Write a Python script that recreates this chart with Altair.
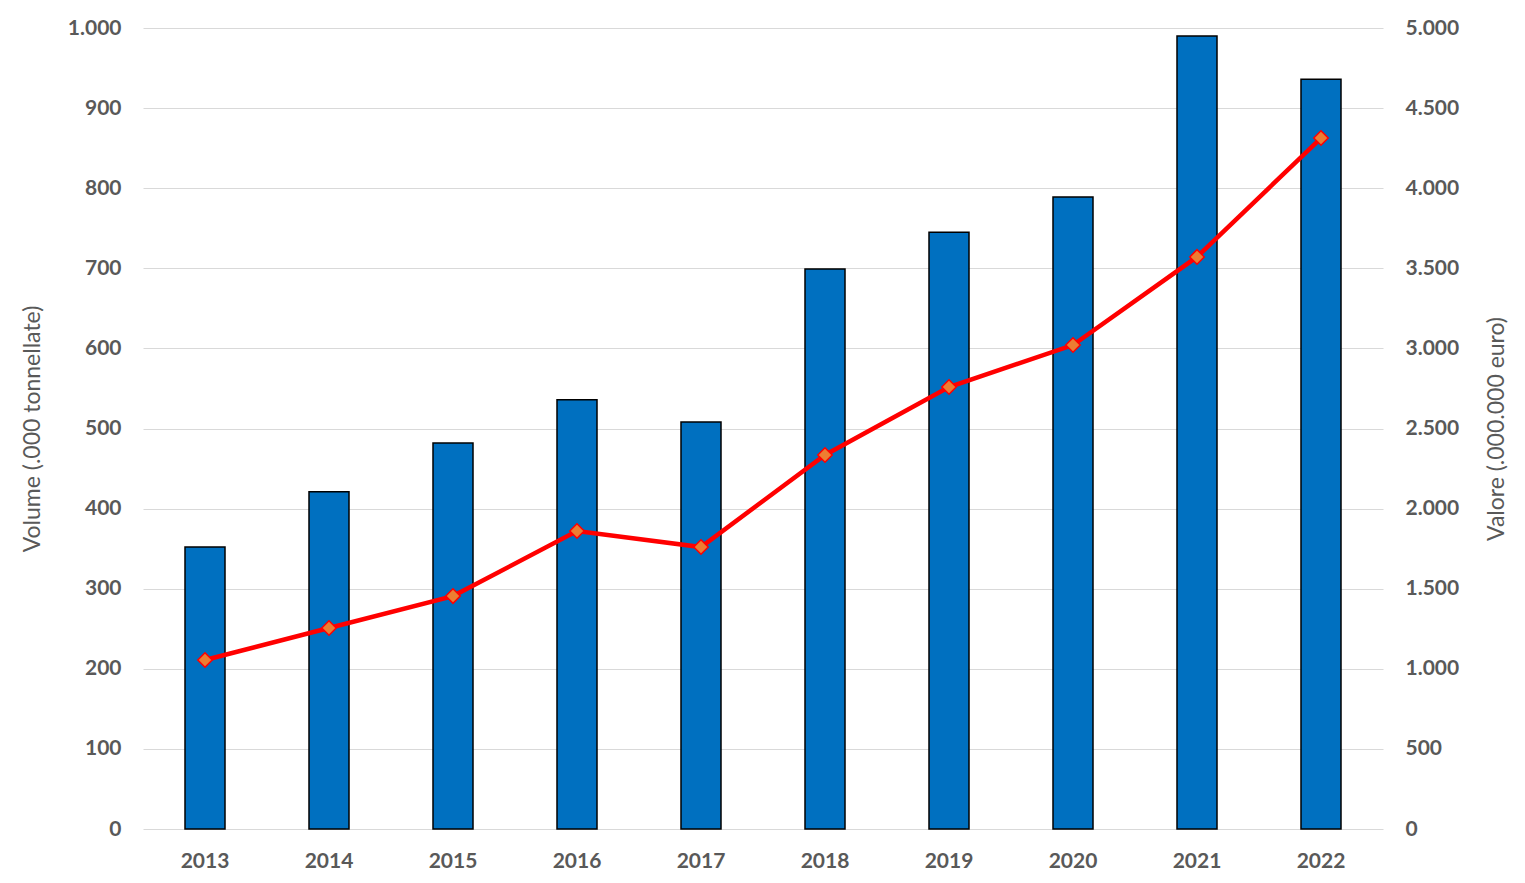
import altair as alt
import pandas as pd

years = ["2013", "2014", "2015", "2016", "2017", "2018", "2019", "2020", "2021", "2022"]
volume = [352, 421, 482, 536, 508, 699, 745, 789, 990, 936]
valore = [1055, 1255, 1454, 1860, 1760, 2335, 2759, 3021, 3571, 4313]

df = pd.DataFrame({"Anno": years, "Volume": volume, "Valore": valore})

FONT = "Lato"
GRAY = "#595959"
fmt = "replace(format(datum.value, ','), ',', '.')"

x = alt.X("Anno:N", sort=years, title=None,
          scale=alt.Scale(paddingInner=0.0, paddingOuter=0.0),
          axis=alt.Axis(labelAngle=0, labelFont=FONT, labelFontSize=21, labelFontWeight="bold",
                        labelColor=GRAY, ticks=False, domain=False, labelPadding=21))

bars = alt.Chart(df).mark_bar(size=40, color="#0070C0", stroke="black", strokeWidth=1.5).encode(
    x=x,
    y=alt.Y("Volume:Q", scale=alt.Scale(domain=[0, 1000]),
            axis=alt.Axis(title="Volume (.000 tonnellate)", values=list(range(0, 1001, 100)),
                          labelExpr=fmt, labelFont=FONT, labelFontSize=21, labelFontWeight="bold",
                          labelColor=GRAY, ticks=False, domain=False, labelPadding=22,
                          gridColor="#d9d9d9", gridWidth=1.2,
                          titleFont=FONT, titleFontSize=23, titleFontWeight="normal",
                          titleColor=GRAY, titlePadding=23)),
)

line = alt.Chart(df).mark_line(color="#FF0000", strokeWidth=4.5,
                               point=alt.OverlayMarkDef(shape="diamond", size=210, fill="#ED7D31",
                                                        stroke="#FF0000", strokeWidth=1.5, filled=True)).encode(
    x=x,
    y=alt.Y("Valore:Q", scale=alt.Scale(domain=[0, 5000]),
            axis=alt.Axis(title="Valore (.000.000 euro)", orient="right", values=list(range(0, 5001, 500)),
                          labelExpr=fmt, labelFont=FONT, labelFontSize=21, labelFontWeight="bold",
                          labelColor=GRAY, ticks=False, domain=False, labelPadding=22, grid=False,
                          titleFont=FONT, titleFontSize=23, titleFontWeight="normal",
                          titleColor=GRAY, titlePadding=50, titleAngle=270)),
)

chart = alt.layer(bars, line).resolve_scale(y="independent").properties(
    width=1240, height=801,
    autosize=alt.AutoSizeParams(type="none"),
    padding={"left": 135, "top": 20, "right": 132, "bottom": 50},
).configure_view(stroke=None)

chart.save("out.html", embed_options={"renderer": "svg", "actions": False})
